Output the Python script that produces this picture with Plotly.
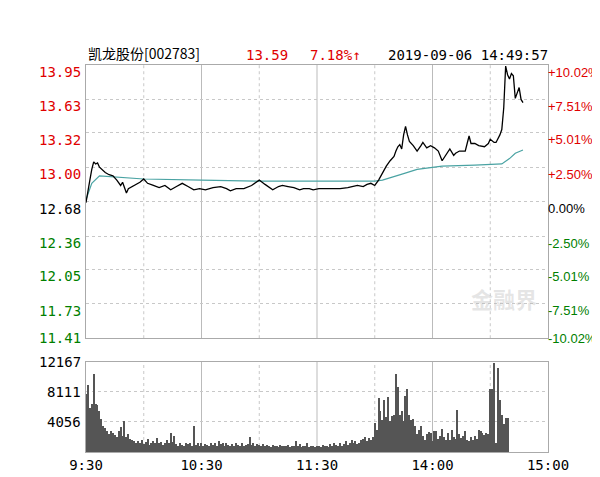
import plotly.graph_objects as go

price_min = [0,1,2,3,4,5,6,7,8,9,10,12,14,16,18,19,21,22,24,26,28,30,32,35,38,41,44,47,50,53,56,59,62,66,70,73,75,78,82,86,90,93,97,100,102,105,108,111,113,116,118,121,123,127,132,136,141,144,146,148,150,152,154,156,158,160,161,162,163,164,165,166,167,168,170,172,174,175,177,179,181,183,185,187,189,191,192,194,197,198,199,200,202,204,207,209,210,212,213,215,216,217,218,219,220,221,222,223,224,225,226,227]
price_val = [12.67,12.80,12.88,12.98,13.05,13.03,13.04,13.00,12.98,12.97,12.95,12.93,12.92,12.88,12.83,12.86,12.76,12.80,12.82,12.84,12.86,12.89,12.85,12.83,12.81,12.83,12.79,12.82,12.85,12.82,12.79,12.80,12.79,12.81,12.82,12.80,12.78,12.80,12.80,12.83,12.88,12.84,12.79,12.82,12.83,12.82,12.81,12.79,12.80,12.80,12.79,12.80,12.80,12.80,12.80,12.81,12.83,12.82,12.84,12.85,12.83,12.88,12.95,13.01,13.06,13.10,13.15,13.19,13.21,13.17,13.30,13.38,13.30,13.24,13.20,13.15,13.20,13.23,13.18,13.20,13.18,13.15,13.06,13.12,13.17,13.11,13.13,13.15,13.15,13.22,13.29,13.22,13.22,13.20,13.19,13.22,13.26,13.23,13.23,13.30,13.35,13.55,13.94,13.86,13.82,13.87,13.85,13.64,13.70,13.74,13.63,13.60]

avg_min = [0,3,7,15,30,60,90,120,150,154,158,165,172,185,202,216,220,223,227]
avg_val = [12.70,12.85,12.92,12.91,12.89,12.88,12.87,12.87,12.87,12.88,12.90,12.94,12.98,13.01,13.02,13.03,13.08,13.13,13.16]

vol = [
 7800,9000,6000,6500,10500,6500,6300,5500,4500,3500,
 3200,2800,2500,2900,2600,2300,2000,2800,3400,2200,
 4200,2000,2400,1800,1600,1500,1300,1500,1200,1600,
 1100,1400,1800,1000,1200,1500,1300,1900,1200,1400,
 1000,1300,1600,1200,2600,1400,2200,1100,900,1200,
 1000,800,1300,1100,1200,900,3500,1000,1300,800,
 1200,900,1100,1000,800,1200,1000,1300,900,1500,
 1100,1300,900,1200,1000,800,1100,900,1300,1000,
 800,1200,900,1000,1100,2100,1000,1200,800,1100,
 1000,900,1100,800,1000,900,700,1000,800,900,
 700,1000,800,900,800,1000,700,900,800,1500,
 800,1100,700,900,800,1300,700,800,900,700,
 800,900,700,1000,800,900,700,1100,900,1200,
 1000,800,1300,900,1100,1500,1000,1300,1700,1200,
 1500,1100,1300,1600,1800,2000,1500,1900,1700,2000,
 4000,3000,7300,5500,4300,7000,4800,7400,4200,4900,
 5000,10500,8800,5000,5500,4200,7600,8500,5000,4300,
 4500,3500,2500,3000,3500,2200,1600,2500,2700,2600,
 1500,2800,2900,1800,2200,3100,2000,1700,2600,1600,
 3000,2000,1800,5700,2500,1900,2200,2800,1700,1500,
 2000,1600,2200,1800,3000,2800,2600,2300,2600,2500,
 8500,8500,12000,1200,11300,7000,5000,3800,4600,4600]
vol_min = list(range(len(vol)))

left_ticks = [13.95,13.63,13.32,13.00,12.68,12.36,12.05,11.73,11.41]
right_ticks = ["+10.02%","+7.51%","+5.01%","+2.50%","0.00%","-2.50%","-5.01%","-7.51%","-10.02%"]
vol_ticks = [12167,8111,4056]
x_tickvals = [0,60,120,180,240]
x_ticklabels = ["9:30","10:30","11:30","14:00","15:00"]

FONT = "DejaVu Sans Mono"
RFONT = "Liberation Sans"
fig = go.Figure()
fig.add_trace(go.Scatter(x=avg_min, y=avg_val, mode="lines", line=dict(color="#4aa3a3", width=1.2), yaxis="y", xaxis="x"))
fig.add_trace(go.Scatter(x=price_min, y=price_val, mode="lines", line=dict(color="#000000", width=1.3), yaxis="y", xaxis="x"))
fig.add_trace(go.Bar(x=vol_min, y=vol, marker=dict(color="#555555", line=dict(width=0)), width=0.6, xaxis="x2", yaxis="y2"))

grid = "#c8c8c8"
fig.update_layout(
    width=600, height=477, showlegend=False,
    margin=dict(l=78, r=60, t=57, b=29),
    paper_bgcolor="white", plot_bgcolor="white",
    font=dict(family=FONT, size=13, color="black"),
    bargap=0,
    xaxis=dict(domain=[0,1], range=[0,240], showticklabels=False, showgrid=False, zeroline=False,
               showline=True, mirror=True, linecolor="#aaaaaa", anchor="y"),
    yaxis=dict(domain=[0.294,1], range=[11.41,13.95], tickvals=left_ticks, showticklabels=False,
               showgrid=True, gridcolor=grid, griddash="dot", zeroline=False,
               showline=True, mirror=True, linecolor="#aaaaaa"),
    xaxis2=dict(domain=[0,1], range=[0,240], tickvals=x_tickvals, ticktext=x_ticklabels, ticks="",
                showgrid=False, zeroline=False, showline=True, mirror=True, linecolor="#aaaaaa", anchor="y2",
                tickfont=dict(family=FONT, size=14)),
    yaxis2=dict(domain=[0,0.233], range=[0,12167], tickvals=vol_ticks, showticklabels=False,
                showgrid=True, gridcolor=grid, griddash="dot", zeroline=False,
                showline=True, mirror=True, linecolor="#aaaaaa"),
)

shapes = []
for m in [30,60,90,120,150,180,210]:
    solid = m in (60,120,180)
    for xr, yr in (("x","y"),("x2","y2")):
        shapes.append(dict(type="line", xref=xr, yref=yr + " domain", x0=m, x1=m, y0=0, y1=1,
                           line=dict(color=grid if not solid else "#bbbbbb", width=1, dash="solid" if solid else "dot"), layer="below"))
fig.update_layout(shapes=shapes)

ann = []
for i, (v, r) in enumerate(zip(left_ticks, right_ticks)):
    c = "#e00000" if i < 4 else ("#000000" if i == 4 else "#008000")
    ys = -7 if i < 8 else 0
    ann.append(dict(x=0, xref="paper", y=v, yref="y", text=f"{v:.2f}", showarrow=False, xanchor="right",
                    xshift=-3, yshift=ys, font=dict(color=c, size=14, family=FONT)))
    ann.append(dict(x=1, xref="paper", y=v, yref="y", text=r, showarrow=False, xanchor="left",
                    xshift=-2, yshift=ys, font=dict(color=c, size=13, family=RFONT)))
for v in vol_ticks:
    ann.append(dict(x=0, xref="paper", y=v, yref="y2", text=str(v), showarrow=False, xanchor="right",
                    xshift=-3, font=dict(color="black", size=14, family=FONT)))
ann.append(dict(x=0, xref="paper", y=1, yref="paper", yanchor="bottom", xanchor="left", showarrow=False,
                text="凯龙股份[002783]", font=dict(family="Noto Sans CJK SC", size=14)))
ann.append(dict(x=158/462, xref="paper", y=1, yref="paper", yanchor="bottom", xanchor="left", showarrow=False,
                text="13.59", font=dict(family=FONT, size=14, color="#e00000")))
ann.append(dict(x=222/462, xref="paper", y=1, yref="paper", yanchor="bottom", xanchor="left", showarrow=False,
                text="7.18%↑", font=dict(family=FONT, size=14, color="#e00000")))
ann.append(dict(x=300/462, xref="paper", y=1, yref="paper", yanchor="bottom", xanchor="left", showarrow=False,
                text="2019-09-06 14:49:57", font=dict(family=FONT, size=14, color="black")))
ann.append(dict(x=0.98, xref="paper", y=11.78, yref="y", xanchor="right", showarrow=False,
                text="<b>金融界</b>", font=dict(family="Noto Sans CJK SC", size=22, color="rgba(180,180,180,0.35)")))
fig.update_layout(annotations=ann)

fig.write_html("out.html")
